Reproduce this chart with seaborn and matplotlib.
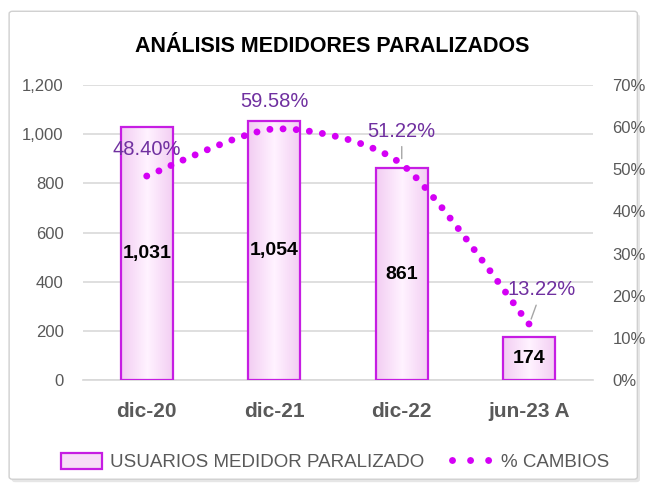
import numpy as np
import pandas as pd
import matplotlib
matplotlib.use("Agg")
import matplotlib.pyplot as plt
import seaborn as sns
from matplotlib.path import Path
from matplotlib.patches import PathPatch, Patch, FancyBboxPatch
from matplotlib.lines import Line2D
from matplotlib.ticker import FuncFormatter

# datos del grafico
periodos = ['dic-20', 'dic-21', 'dic-22', 'jun-23 A']
usuarios = [1031, 1054, 861, 174]
cambios = [48.40, 59.58, 51.22, 13.22]

GRIS = '#595959'
MORADO = '#7030A0'
MAGENTA = '#D400F5'

sns.set_theme(style='white')
plt.rcParams['font.family'] = ['Liberation Sans', 'DejaVu Sans']

fig = plt.figure(figsize=(6.51, 4.90), dpi=100)
# marco exterior del grafico con sombra
fig.patches.append(FancyBboxPatch((0.018, 0.016), 0.965, 0.955, boxstyle='round,pad=0,rounding_size=0.005',
                                  transform=fig.transFigure, fc='#E6E6E6', ec='none', zorder=-2))
fig.patches.append(FancyBboxPatch((0.014, 0.022), 0.965, 0.955, boxstyle='round,pad=0,rounding_size=0.005',
                                  transform=fig.transFigure, fc='white', ec='#D0D0D0', lw=1.0, zorder=-1))
ax = fig.add_axes([0.1275, 0.2245, 0.7834, 0.602])
ax.patch.set_alpha(0)

df = pd.DataFrame({'periodo': periodos, 'usuarios': usuarios})
sns.barplot(data=df, x='periodo', y='usuarios', ax=ax, width=0.41,
            color='#FBE3FB', edgecolor='#C61DE3', linewidth=1.6, zorder=3)

# degradado dentro de las barras
grad = np.linspace(0, 1, 64).reshape(1, -1)
grad = np.abs(grad - 0.5) * 2
cmap = matplotlib.colors.LinearSegmentedColormap.from_list('g', ['#FFF2FF', '#F2CDF2'])
for p in list(ax.patches):
    x0, y0 = p.get_x(), p.get_y()
    w, h = p.get_width(), p.get_height()
    im = ax.imshow(grad, extent=[x0, x0 + w, y0, y0 + h], aspect='auto', cmap=cmap, zorder=3.5)
    im.set_clip_path(p)
    p.set_facecolor('none')
    p.set_zorder(4)

for i, v in enumerate(usuarios):
    ax.text(i, v / 2, f'{v:,}', ha='center', va='center',
            fontsize=14, fontweight='bold', color='black', zorder=6)

ax.set_ylim(0, 1200)
ax.set_xlim(-0.5, 3.5)
ax.set_yticks(range(0, 1201, 200))
ax.yaxis.set_major_formatter(FuncFormatter(lambda v, _: f'{v:,.0f}'))
ax.grid(axis='y', color='#D9D9D9', lw=1.2, zorder=0)
ax.set_axisbelow(True)
ax.set_xlabel('')
ax.set_ylabel('')
ax.tick_params(axis='y', labelsize=12, labelcolor=GRIS, length=0, pad=14)
ax.tick_params(axis='x', labelsize=15, labelcolor=GRIS, length=0, pad=16)
for t in ax.get_xticklabels():
    t.set_fontweight('bold')
sns.despine(ax=ax, left=True, bottom=True)
ax.spines['bottom'].set_visible(True)
ax.spines['bottom'].set_color('#D9D9D9')

# eje secundario con la linea suavizada punteada
ax2 = ax.twinx()
ax2.set_ylim(0, 70)
ax2.set_yticks(range(0, 71, 10))
ax2.yaxis.set_major_formatter(FuncFormatter(lambda v, _: f'{v:.0f}%'))
ax2.tick_params(axis='y', labelsize=12, labelcolor=GRIS, length=0, pad=14)
for s in ax2.spines.values():
    s.set_visible(False)

pts = np.column_stack([np.arange(len(cambios)), cambios]).astype(float)
ext = np.vstack([pts[0], pts, pts[-1]])
verts, codes = [pts[0]], [Path.MOVETO]
for i in range(len(pts) - 1):
    p0, p1, p2, p3 = ext[i], ext[i + 1], ext[i + 2], ext[i + 3]
    verts += [p1 + (p2 - p0) / 8, p2 - (p3 - p1) / 8, p2]
    codes += [Path.CURVE4] * 3
ax2.add_patch(PathPatch(Path(verts, codes), fc='none', ec=MAGENTA, lw=5,
                        ls=(0, (0.001, 1.9)), capstyle='round', zorder=5))

offsets = [(0, 12), (0, 13), (0, 17), (9, 18)]
leaders = [False, False, True, True]
for i, (v, off, ld) in enumerate(zip(cambios, offsets, leaders)):
    ax2.annotate(f'{v:.2f}%', (i, v), xytext=off, textcoords='offset points',
                 ha='center', va='bottom', fontsize=14.5, color=MORADO, zorder=7,
                 arrowprops=dict(arrowstyle='-', color='#A6A6A6', lw=1, shrinkA=2, shrinkB=4) if ld else None)

fig.text(0.51, 0.905, 'ANÁLISIS MEDIDORES PARALIZADOS', ha='center', va='center',
         fontsize=15.5, fontweight='bold', color='black')

handles = [Patch(fc='#F7DDF7', ec='#C61DE3', lw=1.6),
           Line2D([], [], color=MAGENTA, lw=5, ls=(0, (0.001, 2.6)), dash_capstyle='round')]
fig.legend(handles, ['USUARIOS MEDIDOR PARALIZADO', '% CAMBIOS'], loc='center', ncol=2,
           bbox_to_anchor=(0.515, 0.057), frameon=False, fontsize=13.5, labelcolor=GRIS,
           handlelength=2.2, handleheight=0.9, handletextpad=0.4, columnspacing=1.5)

fig.savefig('out.png', dpi=100)
